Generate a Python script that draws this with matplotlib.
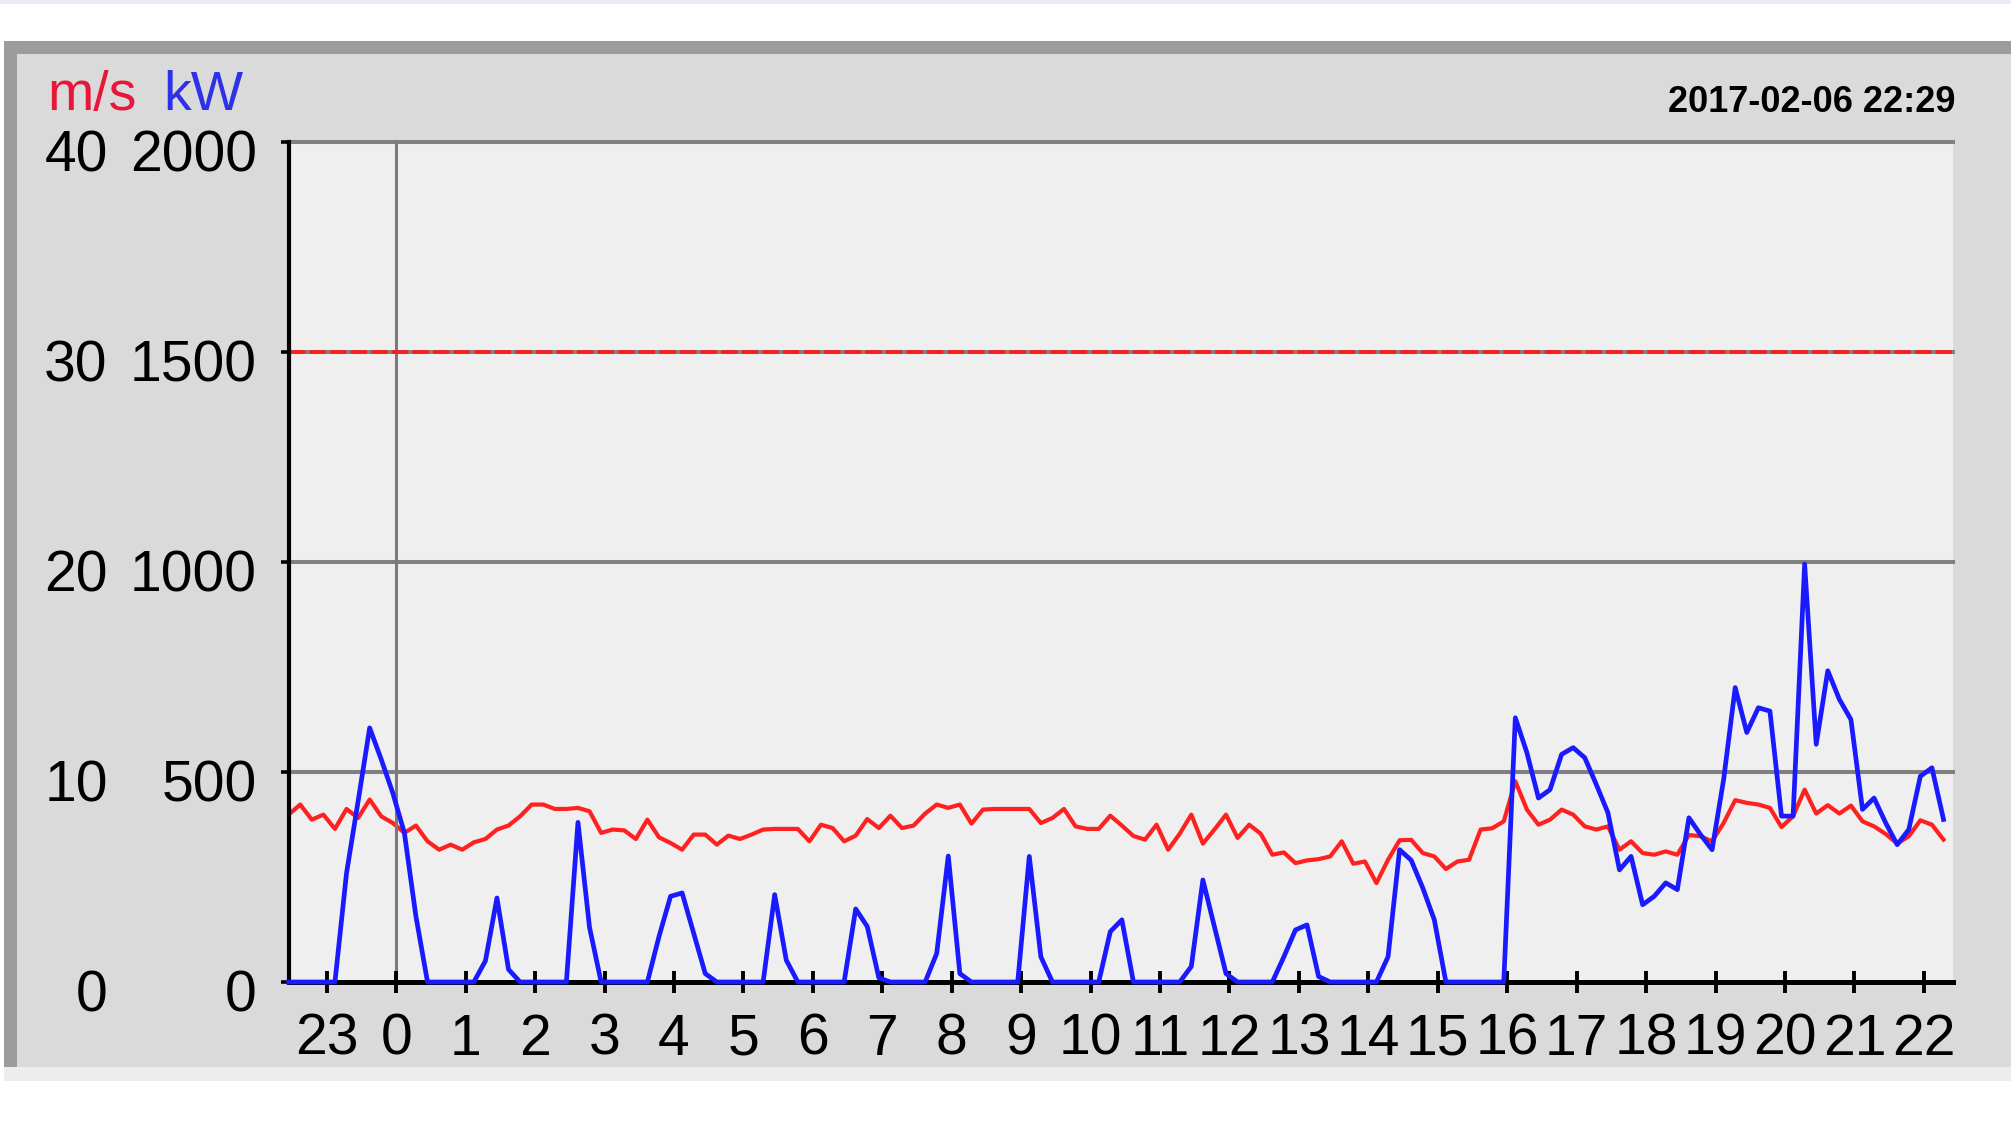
import numpy as np
import matplotlib
matplotlib.use("Agg")
import matplotlib.pyplot as plt
from matplotlib.patches import Rectangle
from matplotlib.transforms import ScaledTranslation

plt.rcParams['font.family'] = ['Liberation Sans', 'DejaVu Sans']

# ---------------- data ----------------
start_hour = -1.55          # 22:27 of previous day (hours relative to midnight)
step_hours = 1 / 6          # 10-minute samples

wind_ms = [
    7.97, 8.45, 7.73, 7.97, 7.29, 8.24, 7.81, 8.69, 7.89, 7.57, 7.10, 7.45,
    6.70, 6.30, 6.54, 6.30, 6.65, 6.81, 7.26, 7.45, 7.89, 8.45, 8.45, 8.24,
    8.24, 8.29, 8.13, 7.10, 7.26, 7.22, 6.81, 7.73, 6.89, 6.62, 6.30, 7.02,
    7.02, 6.54, 6.97, 6.81, 7.02, 7.26, 7.29, 7.29, 7.29, 6.70, 7.49, 7.33,
    6.70, 6.97, 7.76, 7.33, 7.92, 7.33, 7.45, 8.02, 8.45, 8.29, 8.45, 7.54,
    8.21, 8.24, 8.24, 8.24, 8.24, 7.57, 7.81, 8.24, 7.41, 7.29, 7.29, 7.92,
    7.45, 6.95, 6.78, 7.49, 6.30, 7.06, 7.97, 6.59, 7.26, 7.97, 6.86, 7.49,
    7.06, 6.06, 6.17, 5.66, 5.79, 5.85, 5.98, 6.70, 5.63, 5.74, 4.71, 5.82,
    6.75, 6.77, 6.14, 5.98, 5.38, 5.74, 5.82, 7.26, 7.32, 7.65, 9.56, 8.21,
    7.49, 7.73, 8.21, 7.97, 7.41, 7.26, 7.41, 6.30, 6.70, 6.14, 6.06, 6.22,
    6.06, 7.00, 6.94, 6.70, 7.57, 8.66, 8.53, 8.45, 8.29, 7.38, 7.89, 9.16,
    8.02, 8.42, 8.02, 8.40, 7.65, 7.41, 7.05, 6.59, 6.94, 7.70, 7.49, 6.78,
]

power_kw = [
    0, 0, 0, 0, 0, 259, 430, 605, 530, 450, 355, 156,
    0, 0, 0, 0, 0, 50, 200, 30, 0, 0, 0, 0,
    0, 380, 130, 0, 0, 0, 0, 0, 108, 204, 212, 116,
    20, 0, 0, 0, 0, 0, 208, 52, 0, 0, 0, 0,
    0, 174, 132, 10, 0, 0, 0, 0, 68, 300, 20, 0,
    0, 0, 0, 0, 299, 60, 0, 0, 0, 0, 0, 120,
    148, 0, 0, 0, 0, 0, 37, 243, 132, 20, 0, 0,
    0, 0, 60, 124, 136, 13, 0, 0, 0, 0, 0, 60,
    315, 290, 224, 148, 0, 0, 0, 0, 0, 0, 629, 546,
    438, 458, 542, 558, 534, 470, 403, 267, 299, 184, 204, 236,
    220, 391, 351, 315, 482, 701, 594, 653, 645, 395, 395, 995,
    566, 741, 673, 625, 411, 438, 379, 327, 363, 490, 510, 387,
]

hour_ticks = list(range(-1, 23))
hour_labels = ["23"] + [str(h) for h in range(0, 23)]
kw_ticks = [0, 500, 1000, 1500, 2000]
ms_ticks = [0, 10, 20, 30, 40]
limit_kw = 1500
timestamp = "2017-02-06 22:29"

times = start_hour + step_hours * np.arange(len(wind_ms))

# ---------------- figure ----------------
W, H = 2011, 1134
fig = plt.figure(figsize=(W / 100, H / 100), dpi=100)
fig.patch.set_facecolor('white')


def rect(x0, y0, x1, y1, color):
    # pixel box given from top-left
    fig.add_artist(Rectangle((x0 / W, 1 - y1 / H), (x1 - x0) / W, (y1 - y0) / H,
                             transform=fig.transFigure, facecolor=color,
                             edgecolor='none', zorder=0))


rect(0, 0, W, 4, '#e8edf5')
rect(4, 41, W, 1067, '#9c9c9c')
rect(17, 54, W, 1067, '#dadada')
rect(4, 1067, W, 1081, '#ededed')

left, right, top, bottom = 289, 1953, 142, 982
ax = fig.add_axes([left / W, 1 - bottom / H, (right - left) / W, (bottom - top) / H])
ax2 = ax.twinx()
ax.set_zorder(2)
ax2.set_zorder(1)
ax.patch.set_visible(False)
ax2.patch.set_visible(True)
ax2.patch.set_facecolor('#efefef')

ax.set_xlim(-1.545, 22.42)
ax.set_ylim(0, 2000)
ax2.set_ylim(0, 40)

for s in ['top', 'right']:
    ax.spines[s].set_visible(False)
for s in ax2.spines.values():
    s.set_visible(False)
ax.spines['left'].set_linewidth(3.0)
ax.spines['bottom'].set_linewidth(3.6)
ax.spines['left'].set_color('black')
ax.spines['bottom'].set_color('black')

# grid lines
for v in kw_ticks[1:]:
    ax.axhline(v, color='#808080', lw=2.9, zorder=1, clip_on=False)
ax.axhline(limit_kw, color='#ff1a1a', lw=2.6, ls=(0, (4.5, 1.2)), zorder=1.3)
ax.axvline(0, color='#7a7a7a', lw=2.2, zorder=1.1)

# data lines
ax2.plot(times, wind_ms, color='#ff2020', lw=3.0, zorder=2)
ax.plot(times, power_kw, color='#1a1aff', lw=3.4, zorder=3, clip_on=False)

# ticks
ax.set_xticks(hour_ticks, hour_labels)
ax.tick_params(axis='x', direction='inout', length=15.8, width=2.8, colors='black',
               labelsize=41, pad=14.4)
ax.set_yticks(kw_ticks, [str(v) for v in kw_ticks])
ax.tick_params(axis='y', direction='out', length=5.8, width=2.6, colors='black',
               labelsize=41, pad=17.5)
ax2.yaxis.tick_left()
ax2.set_yticks(ms_ticks, [str(v) for v in ms_ticks])
ax2.tick_params(axis='y', length=0, labelsize=41, pad=130.5, colors='black')

off = ScaledTranslation(0, -0.09, fig.dpi_scale_trans)
for lbl in ax.get_yticklabels() + ax2.get_yticklabels():
    lbl.set_transform(lbl.get_transform() + off)

# header texts
fig.text(47 / W, 1 - 110 / H, 'm/s', color='#e8173a', fontsize=40, va='baseline')
fig.text(163 / W, 1 - 110 / H, 'kW', color='#3030e8', fontsize=40, va='baseline')
fig.text(1955 / W, 1 - 112 / H, timestamp, color='black', fontsize=26,
         fontweight='bold', ha='right', va='baseline')

fig.savefig('out.png', dpi=100)
